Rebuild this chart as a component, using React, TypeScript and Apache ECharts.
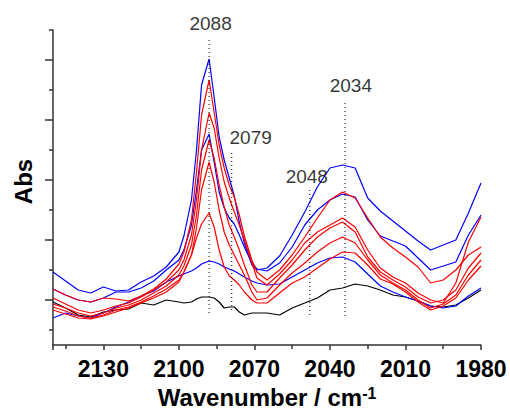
import React, { useEffect, useRef } from "react";
import * as echarts from "echarts";

// Wavenumber grid (cm-1)
const wavenumbers = [
  2150, 2145, 2140, 2135, 2130, 2125, 2120, 2115, 2110, 2105, 2100,
  2098, 2095, 2093, 2091, 2088,
  2086, 2084, 2082, 2080, 2078, 2076, 2074, 2071, 2069,
  2065, 2060, 2055, 2050, 2045, 2040, 2035, 2030, 2025, 2020, 2015, 2010, 2005, 2000, 1995, 1990, 1985, 1980,
];

// Absorbance (arbitrary units, 60 per major tick)
const blue1 = [
  28, 19, 10, 7, 13, 9, 10, 18, 24, 33, 48,
  64, 100, 150, 215, 241,
  203, 163, 140, 122, 104, 78, 57, 35, 30,
  32, 44, 65, 88, 113, 132, 135, 132, 102, 89, 79, 69, 59, 50, 55, 60, 87, 117,
];
const blue2 = [
  11, 5, 0, -2, 2, 8, 8, 12, 19, 30, 40,
  50, 75, 110, 150, 166,
  138, 108, 92, 82, 76, 65, 53, 37, 31,
  29, 37, 53, 75, 90, 100, 106, 103, 80, 64, 59, 54, 42, 30, 34, 38, 65, 85,
];
const blue3 = [
  -18, -13, -16, -18, -13, -7, -2, 4, 9, 18, 24,
  26, 29, 32, 36, 39,
  38, 36, 33, 31, 29, 26, 23, 19, 17,
  15, 16, 23, 30, 37, 42, 43, 38, 26, 14, 8, 3, -1, -6, -8, -6, 4, 12,
];
const black1 = [
  -2, -8, -15, -17, -12, -10, -9, -3, -5, 0, -2,
  -3, -2, 1, 3, 3,
  2, -2, -8, -7, -7, -12, -15, -13, -13,
  -13, -15, -8, -3, 2, 10, 12, 16, 14, 10, 5, 3, -1, -6, -7, -5, 2, 10,
];
const red1 = [
  11, 5, 0, -2, 2, 1, -1, 4, 11, 21, 36,
  48, 80, 128, 185, 220,
  188, 155, 132, 115, 103, 85, 64, 40, 28,
  20, 30, 45, 63, 82, 100, 108, 102, 82, 63, 52, 43, 33, 17, 20, 30, 45, 53,
];
const red2 = [
  2, -4, -10, -13, -10, -6, -3, 3, 10, 18, 30,
  40, 65, 100, 150, 187,
  172, 142, 118, 102, 88, 75, 60, 37, 22,
  15, 26, 40, 57, 68, 75, 82, 73, 50, 32, 23, 17, 7, 0, -3, 17, 58, 83,
];
const red3 = [
  -4, -8, -13, -16, -13, -8, -5, 0, 7, 14, 25,
  34, 55, 85, 130, 160,
  142, 115, 93, 75, 63, 50, 35, 15, 8,
  8, 22, 35, 50, 63, 72, 78, 68, 43, 28, 20, 13, 3, -3, 0, 10, 32, 47,
];
const red4 = [
  -7, -11, -16, -18, -15, -10, -7, -2, 4, 11, 20,
  28, 45, 72, 110, 138,
  118, 90, 68, 55, 45, 35, 25, 8, 0,
  2, 15, 27, 37, 48, 57, 63, 57, 40, 25, 17, 10, 0, -8, -4, 5, 25, 40,
];
const red5 = [
  -10, -14, -18, -19, -16, -12, -8, -3, 2, 8, 18,
  28, 45, 62, 76, 87,
  73, 50, 33, 24, 20, 15, 8, 0, -3,
  -3, 7, 17, 23, 32, 41, 48, 47, 35, 21, 16, 8, -2, -10, -6, 2, 20, 34,
];

// Peak annotations
const peakLabels = ["2088", "2079", "2048", "2034"];
const peakPositions = [2088, 2079, 2048, 2034];
const guideTop = [260, 147, 110, 197];
const guideBottom = [-13, -12, -15, -18];
const labelX = [2087.4, 2071.5, 2049.2, 2031.7];
const labelY = [277, 163, 124, 215];

// Axis ticks
const xTickInterval = 30;
const yMajorTicks = [0, 60, 120, 180, 240];
const yMinorTicks = [-30, 30, 90, 150, 210, 270];

const FONT = "'Liberation Sans', Arial, sans-serif";
const AXIS_COLOR = "#333";

export default function App() {
  const ref = useRef<HTMLDivElement>(null);

  useEffect(() => {
    if (!ref.current) return;
    const chart = echarts.init(ref.current, null, { renderer: "svg" });

    const spectrum = (vals: number[], color: string) => ({
      type: "line",
      data: wavenumbers.map((w, i) => [w, vals[i]]),
      symbol: "none",
      silent: true,
      lineStyle: { color, width: 1.2 },
      itemStyle: { color },
      z: 2,
    });

    const guides = peakPositions.map((p, i) => ({
      type: "line",
      data: [
        [p, guideTop[i]],
        [p, guideBottom[i]],
      ],
      symbol: "none",
      silent: true,
      lineStyle: { color: "#000", width: 1, type: [1, 3] },
      z: 3,
    }));

    const option: any = {
      animation: false,
      grid: { left: 53, right: 29, top: 30, bottom: 65, containLabel: false, outerBoundsMode: "none" },
      xAxis: {
        type: "value",
        min: 1980,
        max: 2150,
        interval: xTickInterval,
        inverse: true,
        axisLine: { show: true, onZero: false, lineStyle: { color: AXIS_COLOR, width: 1.5 } },
        axisTick: { show: true, length: 5, lineStyle: { color: AXIS_COLOR, width: 1.5 } },
        minorTick: { show: true, splitNumber: 2, length: 4, lineStyle: { color: AXIS_COLOR, width: 1.5 } },
        splitLine: { show: false },
        minorSplitLine: { show: false },
        axisLabel: {
          showMaxLabel: false,
          formatter: (v: number) => String(v),
          fontSize: 23,
          fontWeight: "bold",
          color: "#000",
          fontFamily: FONT,
          margin: 12,
        },
        name: "{a|Wavenumber / cm}{s|-1}",
        nameLocation: "middle",
        nameGap: 40,
        nameTextStyle: {
          rich: {
            a: { fontSize: 24, fontWeight: "bold", color: "#000", fontFamily: FONT, lineHeight: 24 },
            s: { fontSize: 16, fontWeight: "bold", color: "#000", fontFamily: FONT, verticalAlign: "top", lineHeight: 14 },
          },
        },
      },
      yAxis: [
        {
          type: "value",
          min: -45,
          max: 270,
          position: "left",
          axisLine: { show: true, onZero: false, lineStyle: { color: AXIS_COLOR, width: 1.5 } },
          axisTick: { show: true, length: 8, customValues: yMajorTicks, lineStyle: { color: AXIS_COLOR, width: 1.5 } },
          axisLabel: { show: false, customValues: yMajorTicks },
          splitLine: { show: false },
          name: "Abs",
          nameLocation: "middle",
          nameRotate: 90,
          nameGap: 18,
          nameTextStyle: { fontSize: 24, fontWeight: "bold", color: "#000", fontFamily: FONT, padding: [0, 0, 0, 12] },
        },
        {
          type: "value",
          min: -45,
          max: 270,
          position: "left",
          axisLine: { show: false },
          axisTick: { show: true, length: 4, customValues: yMinorTicks, lineStyle: { color: AXIS_COLOR, width: 1.5 } },
          axisLabel: { show: false, customValues: yMinorTicks },
          splitLine: { show: false },
        },
      ],
      series: [
        spectrum(black1, "#000000"),
        spectrum(blue3, "#0000ff"),
        spectrum(blue2, "#0000ff"),
        spectrum(blue1, "#0000ff"),
        spectrum(red5, "#ff0000"),
        spectrum(red4, "#ff0000"),
        spectrum(red3, "#ff0000"),
        spectrum(red2, "#ff0000"),
        spectrum(red1, "#ff0000"),
        ...guides,
        {
          type: "scatter",
          silent: true,
          clip: false,
          symbolSize: 1,
          itemStyle: { color: "rgba(0,0,0,0)" },
          data: labelX.map((x, i) => ({ value: [x, labelY[i]], label: { formatter: peakLabels[i] } })),
          label: {
            show: true,
            position: "inside",
            fontSize: 19,
            color: "#000",
            fontFamily: FONT,
          },
          z: 4,
        },
      ],
    };

    chart.setOption(option);
    return () => chart.dispose();
  }, []);

  return (
    <div
      ref={ref}
      style={{ position: "fixed", left: 0, top: 0, width: 510, height: 410, background: "#fff" }}
    />
  );
}
